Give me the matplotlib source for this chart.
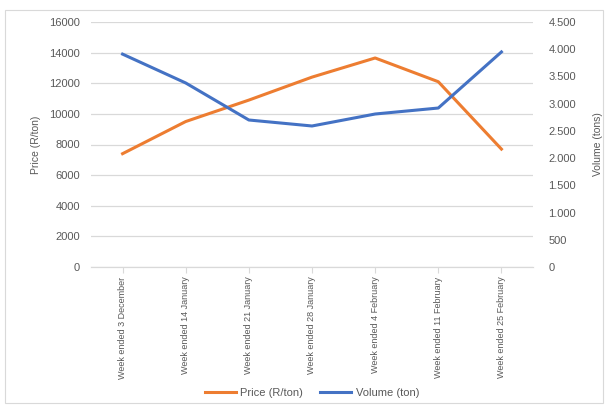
import matplotlib
matplotlib.use("Agg")
from matplotlib import pyplot as plt
from matplotlib.ticker import FuncFormatter
from matplotlib.patches import Rectangle

# data
weeks = ["Week ended 3 December", "Week ended 14 January", "Week ended 21 January",
         "Week ended 28 January", "Week ended 4 February", "Week ended 11 February",
         "Week ended 25 February"]
price = [7400, 9500, 10900, 12400, 13650, 12100, 7700]
volume = [3910, 3380, 2700, 2590, 2810, 2920, 3950]

orange = "#ED7D31"
blue = "#4472C4"
txt = "#595959"
grid = "#D9D9D9"

plt.rcParams["font.family"] = ["Liberation Sans", "DejaVu Sans"]

fig = plt.figure(figsize=(6.08, 4.05), dpi=100)
ax = fig.add_axes([91/608, 1-267/405, (533-91)/608, (267-22)/405])
ax2 = ax.twinx()

x = list(range(len(weeks)))
l1, = ax.plot(x, price, color=orange, lw=2.2, label="Price (R/ton)")
l2, = ax2.plot(x, volume, color=blue, lw=2.2, label="Volume (ton)")

ax.set_xlim(-0.5, len(weeks)-0.5)
ax.set_ylim(0, 16000)
ax.set_yticks(range(0, 16001, 2000))
ax2.set_ylim(0, 4500)
ax2.set_yticks(range(0, 4501, 500))
ax2.yaxis.set_major_formatter(FuncFormatter(lambda v, p: f"{int(v):,}".replace(",", ".")))

ax.set_xticks(x)
ax.set_xticklabels(weeks, rotation=90, fontsize=6.5, color=txt)
ax.tick_params(axis="x", length=4, color=grid, pad=3)
ax.tick_params(axis="y", length=0, labelsize=8, labelcolor=txt, pad=8)
ax2.tick_params(axis="y", length=0, labelsize=8, labelcolor=txt, pad=11)

ax.grid(axis="y", color=grid, lw=0.9)
ax.set_axisbelow(True)
for a in (ax, ax2):
    for s in ["top", "left", "right"]:
        a.spines[s].set_visible(False)
    a.spines["bottom"].set_color(grid)

ax.set_ylabel("Price (R/ton)", fontsize=7.5, color=txt, labelpad=6)
ax2.set_ylabel("Volume (tons)", fontsize=7.5, color=txt, labelpad=12)

fig.legend(handles=[l1, l2], loc="center", bbox_to_anchor=(312/608, 1-393/405),
           ncol=2, frameon=False, fontsize=8, labelcolor=txt, handlelength=2.8,
           columnspacing=1.5, handletextpad=0.4)

fig.patches.append(Rectangle((5/608, 2/405), 598/608, 393/405, transform=fig.transFigure,
                             fill=False, edgecolor=grid, lw=0.8))

fig.savefig("out.png", dpi=100)
